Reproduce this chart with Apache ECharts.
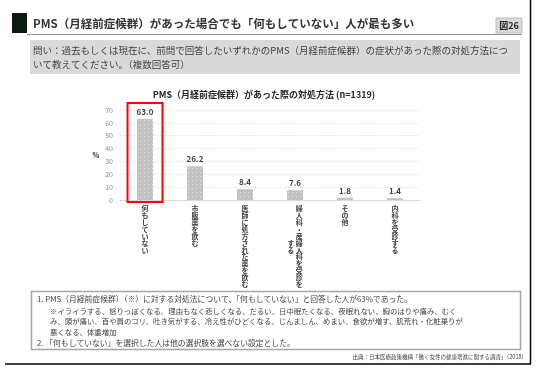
<!DOCTYPE html>
<html>
<head>
<meta charset="utf-8">
<script src="https://cdn.jsdelivr.net/npm/echarts@6/dist/echarts.min.js"></script>
<style>
html,body{margin:0;padding:0;background:#fff;}
#main{width:546px;height:376px;}
</style>
</head>
<body>
<div id="main"></div>
<script>
// data
const categories = ['何もしていない', '市販薬を飲む', '医師に処方された薬を飲む', '婦人科・産婦人科を受診をする', 'その他', '内科を受診する'];
const values = [63.0, 26.2, 8.4, 7.6, 1.8, 1.4];
const yMin = 0, yMax = 70, yStep = 10;

const pageTitle = 'PMS（月経前症候群）があった場合でも「何もしていない」人が最も多い';
const figNo = '図26';
const question = ['問い：過去もしくは現在に、前問で回答したいずれかのPMS（月経前症候群）の症状があった際の対処方法につ', 'いて教えてください。（複数回答可）'];
const chartTitle = 'PMS（月経前症候群）があった際の対処方法 (n=1319)';
const notes = [
  '1. PMS（月経前症候群）（※）に対する対処法について、「何もしていない」と回答した人が63%であった。',
  '※イライラする、怒りっぽくなる、理由もなく悲しくなる、だるい、日中眠たくなる、夜眠れない、胸のはりや痛み、むく',
  'み、頭が痛い、首や肩のコリ、吐き気がする、冷え性がひどくなる、じんましん、めまい、食欲が増す、肌荒れ・化粧乗りが',
  '悪くなる、体重増加',
  '2. 「何もしていない」を選択した人は他の選択肢を選べない設定とした。'
];
const source = '出典：日本医療政策機構「働く女性の健康増進に関する調査」（2018）';

const FONT = '"Noto Sans CJK JP", "Noto Sans", sans-serif';
const COL_MAX = 12;

// stacked (vertical) label, wrapping to a second column on the left
function verticalLabel(s) {
  const chars = Array.from(s);
  if (chars.length <= COL_MAX) return chars.join('\n');
  const c1 = chars.slice(0, COL_MAX);
  const c2 = chars.slice(COL_MAX);
  const start = Math.floor((COL_MAX - c2.length) / 2);
  return c1.map((ch, i) => {
    const left = (i >= start && i < start + c2.length) ? c2[i - start] : '\u3000';
    return left + ' ' + ch;
  }).join('\n');
}

let chart = echarts.init(document.getElementById('main'));

let option = {
  animation: false,
  backgroundColor: '#fff',
  textStyle: {fontFamily: FONT},
  grid: {left: 120, right: 126, top: 110, bottom: 176, containLabel: false},
  xAxis: {
    type: 'category',
    data: categories,
    axisLine: {lineStyle: {color: '#d9d9d9'}},
    axisTick: {show: false},
    axisLabel: {
      interval: 0,
      margin: 5,
      fontSize: 7,
      lineHeight: 6.9,
      fontWeight: 'bold',
      color: '#404040',
      verticalAlign: 'top',
      formatter: verticalLabel
    }
  },
  yAxis: {
    type: 'value',
    min: yMin,
    max: yMax,
    interval: yStep,
    name: '%',
    nameLocation: 'middle',
    nameRotate: 0,
    nameGap: 19,
    nameTextStyle: {fontSize: 7, fontWeight: 'bold', color: '#262626'},
    axisLine: {show: false},
    axisTick: {show: false},
    axisLabel: {fontSize: 7, color: '#8c8c8c', margin: 7},
    splitLine: {lineStyle: {color: '#d9d9d9', type: [1, 1.5]}}
  },
  series: [{
    type: 'bar',
    data: values,
    barWidth: 16,
    itemStyle: {
      color: '#c2c2c2',
      decal: {
        symbol: 'rect',
        symbolSize: 1,
        color: 'rgba(255,255,255,0.55)',
        dashArrayX: [[1, 3]],
        dashArrayY: [1, 3],
        rotation: 0
      }
    },
    label: {
      show: true,
      position: 'top',
      distance: 3,
      fontSize: 8,
      fontWeight: 'bold',
      color: '#404040',
      formatter: p => p.value.toFixed(1)
    }
  }]
};
chart.setOption(option);

// red frame around the top answer
const c0 = chart.convertToPixel({seriesIndex: 0}, [0, values[0]]);
const zero = chart.convertToPixel({seriesIndex: 0}, [0, 0]);
const band = chart.convertToPixel({xAxisIndex: 0}, 1) - chart.convertToPixel({xAxisIndex: 0}, 0);
const frameW = band * 0.7;

const graphic = [
  {type: 'rect', shape: {x: 12, y: 13, width: 15, height: 20}, style: {fill: '#0d1a10'}},
  {type: 'text', x: 33, y: 24, style: {text: pageTitle, fontFamily: FONT, fontSize: 11.5, fontWeight: 'bold', fill: '#333', verticalAlign: 'middle'}},
  {type: 'line', shape: {x1: 27, y1: 34.5, x2: 522, y2: 34.5}, style: {stroke: '#8c8c8c', lineWidth: 1}},
  {type: 'rect', shape: {x: 496, y: 18, width: 26, height: 15}, style: {fill: '#d9d9d9', stroke: '#bfbfbf', lineWidth: 1}},
  {type: 'text', x: 509, y: 25.5, style: {text: figNo, fontFamily: FONT, fontSize: 9, fontWeight: 'bold', fill: '#262626', align: 'center', verticalAlign: 'middle'}},
  {type: 'line', shape: {x1: 530.5, y1: 0, x2: 530.5, y2: 364}, style: {stroke: '#000', lineWidth: 1.5}},
  {type: 'line', shape: {x1: 5, y1: 364, x2: 531, y2: 364}, style: {stroke: '#000', lineWidth: 1.5}},
  {type: 'rect', shape: {x: 30, y: 40, width: 490, height: 34}, style: {fill: '#d9d9d9'}},
  {type: 'text', x: 33, y: 43, style: {text: question.join('\n'), fontFamily: FONT, fontSize: 9.5, lineHeight: 14, fill: '#404040'}},
  {type: 'text', x: 264, y: 95, style: {text: chartTitle, fontFamily: FONT, fontSize: 9, fontWeight: 'bold', fill: '#262626', align: 'center', verticalAlign: 'middle'}},
  {type: 'rect', z: 100, shape: {x: c0[0] - frameW / 2, y: c0[1] - 16, width: frameW, height: zero[1] - c0[1] + 18}, style: {fill: 'none', stroke: '#ff0000', lineWidth: 2}},
  {type: 'rect', shape: {x: 31.5, y: 291.5, width: 489, height: 58}, style: {fill: 'none', stroke: '#a6a6a6', lineWidth: 1.5}},
  {type: 'text', x: 37, y: 295, style: {text: notes[0], fontFamily: FONT, fontSize: 7.8, fill: '#404040'}},
  {type: 'text', x: 50, y: 305.5, style: {text: notes.slice(1, 4).join('\n'), fontFamily: FONT, fontSize: 7.4, lineHeight: 10.5, fill: '#404040'}},
  {type: 'text', x: 37, y: 339, style: {text: notes[4], fontFamily: FONT, fontSize: 7.8, fill: '#404040'}},
  {type: 'text', x: 527, y: 357, style: {text: source, fontFamily: FONT, fontSize: 5.5, fill: '#404040', align: 'right', verticalAlign: 'middle'}}
];
chart.setOption({graphic: graphic});

window.onresize = function () {
  chart.resize();
};
</script>
</body>
</html>
